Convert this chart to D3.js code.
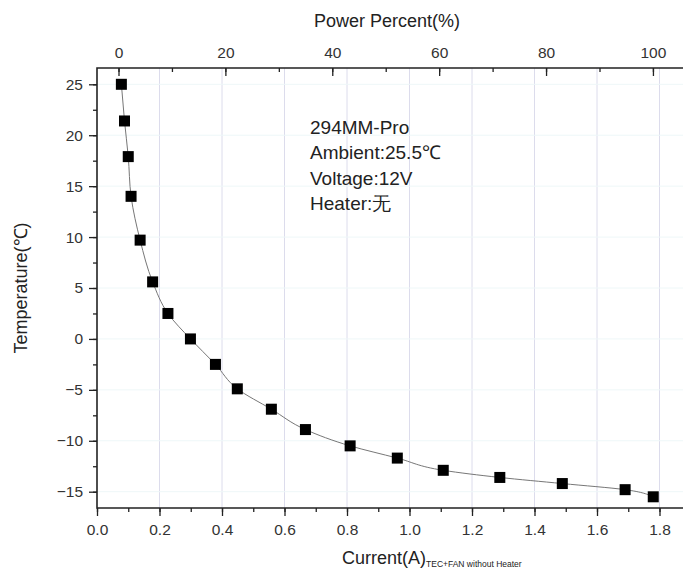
<!DOCTYPE html>
<html>
<head>
<meta charset="utf-8">
<script src="https://cdn.jsdelivr.net/npm/d3@7"></script>
<style>
  body { margin: 0; background: #fff; }
  svg { display: block; font-family: "Liberation Sans", Arial, sans-serif; }
</style>
</head>
<body>
<svg width="683" height="573"></svg>
<script>
// measured points, current (A) vs temperature (C)
const current = [0.078, 0.088, 0.100, 0.109, 0.138, 0.178, 0.227, 0.299, 0.379, 0.449, 0.558, 0.667, 0.810, 0.961, 1.108, 1.289, 1.489, 1.690, 1.780]
const temperature = [25.0, 21.4, 17.9, 14.0, 9.7, 5.6, 2.5, 0.0, -2.5, -4.9, -6.9, -8.9, -10.5, -11.7, -12.9, -13.6, -14.2, -14.8, -15.5]
const xTicks = [0, 0.2, 0.4, 0.6, 0.8, 1.0, 1.2, 1.4, 1.6, 1.8]
const yTicks = [-15, -10, -5, 0, 5, 10, 15, 20, 25]
const topTicks = [0, 20, 40, 60, 80, 100]
const notes = ["294MM-Pro", "Ambient:25.5℃", "Voltage:12V", "Heater:无"]

const svg = d3.select('svg')
const padL = 97, padT = 68, padB = 508, padR = 690

const x = d3.scaleLinear().domain([0, 1.9]).range([padL, padL + 1.9 * 312.5])
const y = d3.scaleLinear().domain([-16.6, 26.6]).range([padB, padT])
// power percent runs from the first to the last measured current
const xTop = d3.scaleLinear().domain([0, 100]).range([x(0.0688), x(1.779)])

// faint grid
svg.append('g').selectAll('line')
  .data(xTicks.slice(1))
  .enter().append('line')
    .attr('x1', d => x(d)).attr('x2', d => x(d))
    .attr('y1', padT).attr('y2', padB)
    .attr('stroke', '#dcdcec').attr('stroke-width', 1)
svg.append('g').selectAll('line')
  .data(yTicks)
  .enter().append('line')
    .attr('x1', padL).attr('x2', padR)
    .attr('y1', d => y(d)).attr('y2', d => y(d))
    .attr('stroke', '#eef7f8').attr('stroke-width', 1)

// axes
const minor = (a, b, s) => d3.range(a, b + 1e-9, s)

const gB = svg.append('g').attr('transform', `translate(0,${padB})`)
gB.call(d3.axisBottom(x).tickValues(minor(0, 1.8, 0.1)).tickSize(4).tickFormat(''))
gB.call(g => g.append('g').call(d3.axisBottom(x).tickValues(xTicks).tickSize(8).tickFormat(d3.format('.1f'))))

const gL = svg.append('g').attr('transform', `translate(${padL},0)`)
gL.call(d3.axisLeft(y).tickValues(minor(-15, 25, 2.5)).tickSize(4).tickFormat(''))
gL.call(g => g.append('g').call(d3.axisLeft(y).tickValues(yTicks).tickSize(8).tickPadding(6)))

const gT = svg.append('g').attr('transform', `translate(0,${padT})`)
gT.call(d3.axisTop(xTop).tickValues(minor(0, 100, 10)).tickSize(-4).tickFormat(''))
gT.call(g => g.append('g').call(d3.axisTop(xTop).tickValues(topTicks).tickSize(-8).tickPadding(10)))

svg.selectAll('.domain').remove()
svg.selectAll('.tick line').attr('stroke', '#222').attr('stroke-width', 1.3)
svg.selectAll('.tick text').attr('font-size', 15.5).attr('fill', '#333')
  .attr('font-family', '"Liberation Sans", Arial, sans-serif')
gB.selectAll('.tick text').attr('dy', '1.05em')

// frame
svg.append('path')
  .attr('d', `M${padR},${padT}H${padL}V${padB}H${padR}`)
  .attr('fill', 'none').attr('stroke', '#222').attr('stroke-width', 1.6)

// curve + markers
const pts = current.map((c, i) => [c, temperature[i]])
svg.append('path')
  .datum(pts)
  .attr('d', d3.line().x(d => x(d[0])).y(d => y(d[1])).curve(d3.curveMonotoneY))
  .attr('fill', 'none').attr('stroke', '#777').attr('stroke-width', 1)
svg.append('g').selectAll('rect')
  .data(pts)
  .enter().append('rect')
    .attr('x', d => x(d[0]) - 5.5).attr('y', d => y(d[1]) - 5.5)
    .attr('width', 11).attr('height', 11)
    .attr('fill', '#000')

// note block
svg.append('g').selectAll('text')
  .data(notes)
  .enter().append('text')
    .attr('x', 310).attr('y', (d, i) => 134 + i * 25.4)
    .attr('font-size', 19).attr('fill', '#222')
    .text(d => d)

// titles
svg.append('text').attr('x', 387).attr('y', 27).attr('text-anchor', 'middle')
  .attr('font-size', 18).attr('fill', '#222').text('Power Percent(%)')
svg.append('text').attr('transform', 'translate(27,288) rotate(-90)').attr('text-anchor', 'middle')
  .attr('font-size', 18).attr('fill', '#222').text('Temperature(℃)')
const xl = svg.append('text').attr('x', 342).attr('y', 564).attr('fill', '#222')
xl.append('tspan').attr('font-size', 18).text('Current(A)')
xl.append('tspan').attr('font-size', 8.5).attr('dy', 3).text('TEC+FAN without Heater')
</script>
</body>
</html>
